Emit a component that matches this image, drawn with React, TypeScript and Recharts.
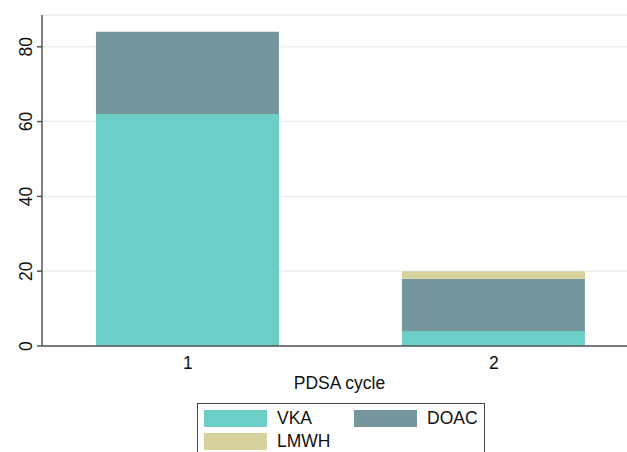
import React from "react";
import { BarChart, Bar, XAxis, YAxis, CartesianGrid } from "recharts";

const categories = [1, 2];
const vka = [62, 4];
const doac = [22, 14];
const lmwh = [0, 2];
const yTicks = [0, 20, 40, 60, 80];

const seriesNames = ["VKA", "DOAC", "LMWH"];
const colors = { VKA: "#6ccfc7", DOAC: "#74969c", LMWH: "#d7d19e" };

const data = categories.map((c, i) => ({ cycle: c, VKA: vka[i], DOAC: doac[i], LMWH: lmwh[i] }));

const FONT = "'Liberation Sans', Arial, sans-serif";

const YTick = (props: any) => {
  const { x, y, payload } = props;
  const tx = x - 5;
  return (
    <text x={tx} y={y} transform={`rotate(-90 ${tx} ${y})`} textAnchor="middle" fontFamily={FONT} fontSize={17.5} fill="#111">
      {payload.value}
    </text>
  );
};

const XTick = (props: any) => {
  const { x, y, payload } = props;
  return (
    <text x={x} y={y + 17} textAnchor="middle" dominantBaseline="central" fontFamily={FONT} fontSize={17.5} fill="#111">
      {payload.value}
    </text>
  );
};

const LegendItem = ({ name, left, top }: { name: string; left: number; top: number }) => (
  <>
    <div style={{ position: "absolute", left: left, top: top, width: 63, height: 17, background: (colors as any)[name] }} />
    <div style={{ position: "absolute", left: left + 73, top: top - 2, fontFamily: FONT, fontSize: 17.5, lineHeight: "21px", color: "#111" }}>{name}</div>
  </>
);

export default function App() {
  return (
    <div style={{ position: "absolute", left: 0, top: 0, width: 627, height: 452, background: "#fff", overflow: "hidden" }}>
      <BarChart width={627} height={452} data={data} margin={{ top: 15, right: 0, left: 0, bottom: 82 }}>
        <CartesianGrid horizontal vertical={false} stroke="#e8f0f1" strokeWidth={1.5} />
        <XAxis
          dataKey="cycle"
          type="number"
          domain={[0.523, 2.435]}
          ticks={categories}
          tickLine={false}
          tickSize={0}
          tickMargin={0}
          height={24}
          axisLine={{ stroke: "#555", strokeWidth: 1.5 }}
          tick={<XTick />}
          allowDataOverflow
          label={{ value: "PDSA cycle", position: "bottom", offset: 7, dx: 5, fontFamily: FONT, fontSize: 17.5, fill: "#111" }}
        />
        <YAxis
          type="number"
          domain={[0, 88.5]}
          ticks={yTicks}
          width={42}
          tickSize={5}
          tickMargin={0}
          tickLine={{ stroke: "#555", strokeWidth: 1.5 }}
          axisLine={{ stroke: "#555", strokeWidth: 1.5 }}
          tick={<YTick />}
          allowDataOverflow
        />
        {seriesNames.map((s) => (
          <Bar key={s} dataKey={s} stackId="a" fill={(colors as any)[s]} barSize={183} isAnimationActive={false} />
        ))}
      </BarChart>
      <div style={{ position: "absolute", left: 197, top: 403, width: 286, height: 70, border: "1px solid #444" }} />
      <LegendItem name="VKA" left={204} top={410} />
      <LegendItem name="DOAC" left={354} top={410} />
      <LegendItem name="LMWH" left={204} top={433} />
    </div>
  );
}
